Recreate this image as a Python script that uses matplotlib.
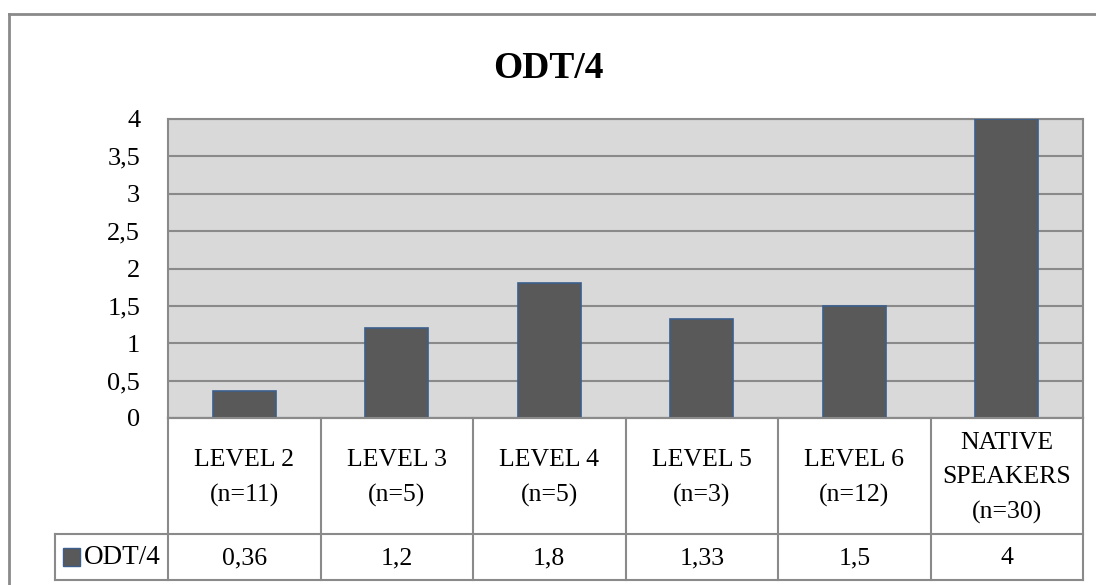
import matplotlib.pyplot as plt
from matplotlib.lines import Line2D
from matplotlib.patches import Rectangle

# ODT/4 scores per group
groups = ["LEVEL 2\n(n=11)", "LEVEL 3\n(n=5)", "LEVEL 4\n(n=5)", "LEVEL 5\n(n=3)",
          "LEVEL 6\n(n=12)", "NATIVE\nSPEAKERS\n(n=30)"]
scores = [0.36, 1.2, 1.8, 1.33, 1.5, 4]
score_labels = ["0,36", "1,2", "1,8", "1,33", "1,5", "4"]
yticks = [0, 0.5, 1, 1.5, 2, 2.5, 3, 3.5, 4]
ytick_labels = ["0", "0,5", "1", "1,5", "2", "2,5", "3", "3,5", "4"]
series_name = "ODT/4"

W, H = 1096, 585
plt.rcParams['font.family'] = ['Liberation Serif', 'DejaVu Serif']

fig = plt.figure(figsize=(W / 100, H / 100), dpi=100)
bar_color = '#595959'
bar_edge = '#3b5e8c'
line_gray = '#8a8a8a'
fs = 18.5


def fx(x):
    return x / W


def fy(y):
    return 1 - y / H


def hline(x0, x1, y, lw=1.5, color=line_gray):
    fig.add_artist(Line2D([fx(x0), fx(x1)], [fy(y), fy(y)], color=color, lw=lw))


def vline(x, y0, y1, lw=1.5, color=line_gray):
    fig.add_artist(Line2D([fx(x), fx(x)], [fy(y0), fy(y1)], color=color, lw=lw))


# outer chart frame (right/bottom edges fall outside the canvas)
hline(9, W + 5, 14, lw=2)
vline(9, 14, H + 5, lw=2)

# plot area
left, right, top, zero = 168, 1083, 119, 418
ax = fig.add_axes([fx(left), fy(zero), fx(right) - fx(left), fy(top) - fy(zero)])
ax.set_facecolor('#d9d9d9')
ax.set_xlim(-0.5, len(scores) - 0.5)
ax.set_ylim(0, 4)
ax.set_yticks(yticks)
ax.set_yticklabels(ytick_labels, fontsize=fs + 0.5)
ax.tick_params(axis='y', length=0, pad=20)
ax.set_xticks([])
ax.yaxis.grid(True, color=line_gray, lw=1.5)
ax.set_axisbelow(True)
for s in ax.spines.values():
    s.set_color(line_gray)
    s.set_linewidth(1.5)
ax.bar(range(len(scores)), scores, width=0.41, color=bar_color,
       edgecolor=bar_edge, linewidth=1.2, zorder=3)

fig.text(0.5, fy(68), "ODT/4", ha='center', va='center', fontsize=27, fontweight='bold')

# data table beneath the axis
row_split, table_bottom, legend_left = 534, 580, 55
col_w = (right - left) / len(scores)
hline(left, right, zero)
hline(legend_left, right, row_split)
hline(legend_left, right, table_bottom)
vline(legend_left, row_split, table_bottom)
for i in range(len(scores) + 1):
    vline(left + i * col_w, zero, table_bottom)

for i, (g, lab) in enumerate(zip(groups, score_labels)):
    cx = left + (i + 0.5) * col_w
    fig.text(fx(cx), fy((zero + row_split) / 2 + 2), g, ha='center', va='center',
             fontsize=fs, linespacing=1.7)
    fig.text(fx(cx), fy((row_split + table_bottom) / 2 + 1), lab, ha='center', va='center',
             fontsize=fs)

# legend key inside the table
fig.add_artist(Rectangle((fx(63), fy(566)), fx(80) - fx(63), fy(548) - fy(566),
                         facecolor=bar_color, edgecolor=bar_edge, lw=1))
fig.text(fx(84), fy(557), series_name, ha='left', va='center', fontsize=fs + 1)

fig.savefig('out.png', dpi=100)
